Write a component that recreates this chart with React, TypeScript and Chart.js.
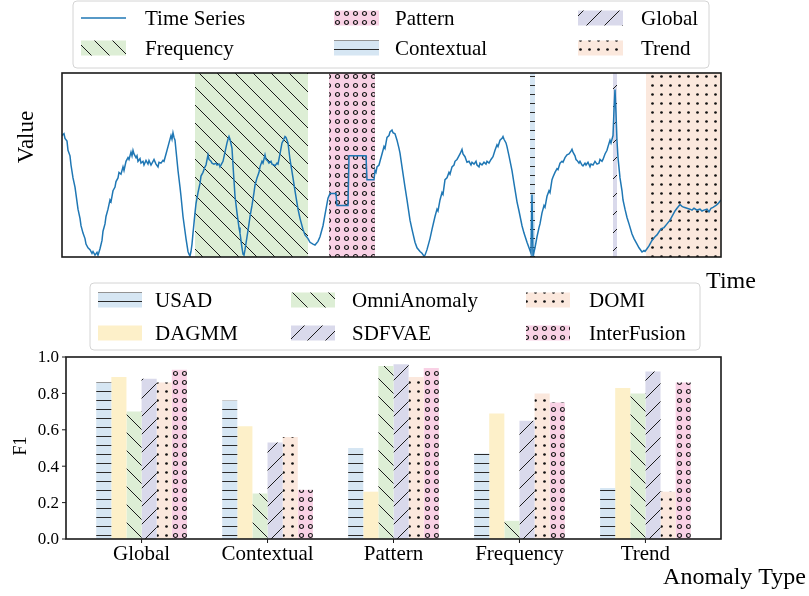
import React, { useEffect, useRef } from 'react';
import { Chart, registerables } from 'chart.js';

Chart.register(...registerables);

const FONT = '"Liberation Serif", "Times New Roman", serif';

// ---------- top panel: time series ----------
const timeIndex = [
  0, 2, 3, 5, 6, 8, 9, 11, 13, 14, 16, 18, 19, 21, 23, 24, 26, 28, 30, 31, 33, 35, 36, 38, 40, 41, 43, 44, 46, 48, 49,
  51, 53, 54, 56, 57, 59, 61, 62, 64, 66, 67, 69, 70, 71, 72, 74, 75, 76, 78, 79, 81, 82, 84, 86, 87, 89, 91, 92, 94,
  96, 97, 99, 101, 102, 104, 106, 107, 109, 110, 111, 112, 113, 114, 116, 118, 119, 121, 123, 124, 126, 127, 128, 129,
  130, 131, 133, 134, 136, 138, 139, 141, 143, 144, 146, 147, 149, 150, 152, 154, 155, 157, 158, 160, 161, 163, 165,
  166, 167, 168, 170, 171, 173, 175, 177, 178, 180, 181, 182, 183, 185, 187, 188, 190, 192, 193, 195, 197, 198, 200,
  201, 203, 204, 206, 207, 209, 210, 212, 213, 215, 216, 218, 220, 221, 223, 224, 226, 228, 231, 233, 236, 238, 241,
  243, 246, 248, 251, 253, 256, 258, 261, 263, 265, 266, 268, 274, 275, 286, 287, 304, 305, 312, 313, 314, 315, 317,
  318, 320, 322, 323, 325, 327, 328, 330, 331, 333, 335, 337, 338, 340, 343, 345, 348, 350, 353, 355, 358, 360, 362,
  363, 365, 368, 370, 373, 375, 376, 378, 380, 381, 383, 385, 387, 388, 390, 392, 393, 395, 396, 398, 400, 401, 403,
  404, 405, 407, 409, 410, 412, 414, 415, 417, 418, 420, 422, 424, 425, 427, 429, 431, 433, 435, 436, 438, 440, 441,
  442, 444, 445, 447, 450, 452, 455, 457, 460, 462, 465, 467, 469, 470, 471, 473, 475, 477, 478, 480, 482, 483, 485,
  487, 488, 490, 491, 493, 495, 496, 498, 500, 501, 503, 505, 507, 509, 510, 511, 513, 514, 515, 517, 518, 520, 521,
  523, 524, 526, 528, 529, 531, 533, 535, 537, 538, 540, 541, 543, 545, 546, 548, 549, 551, 552, 553, 554, 555, 556,
  558, 560, 561, 563, 565, 567, 570, 572, 575, 577, 580, 582, 583, 585, 587, 590, 593, 595, 598, 600, 602, 605, 608,
  611, 613, 615, 618, 620, 622, 625, 628, 630, 632, 635, 638, 640, 642, 645, 647, 649, 651, 654, 656, 659,
];
const seriesValues = [
  0.66, 0.67, 0.645, 0.63, 0.58, 0.55, 0.5, 0.43, 0.38, 0.34, 0.26, 0.21, 0.17, 0.13, 0.1, 0.07, 0.05, 0.04, 0.02, 0.03,
  0.01, 0.025, 0.01, 0.045, 0.09, 0.14, 0.18, 0.22, 0.26, 0.31, 0.3, 0.36, 0.38, 0.41, 0.43, 0.46, 0.45, 0.49, 0.47,
  0.52, 0.54, 0.53, 0.57, 0.55, 0.58, 0.56, 0.54, 0.55, 0.52, 0.535, 0.51, 0.52, 0.5, 0.525, 0.505, 0.525, 0.5, 0.52,
  0.53, 0.505, 0.49, 0.515, 0.51, 0.525, 0.52, 0.56, 0.6, 0.62, 0.66, 0.64, 0.675, 0.65, 0.635, 0.58, 0.47, 0.38, 0.33,
  0.22, 0.14, 0.1, 0.03, 0.015, 0.005, 0.03, 0.07, 0.13, 0.24, 0.29, 0.35, 0.4, 0.44, 0.46, 0.49, 0.5, 0.555, 0.53,
  0.52, 0.51, 0.505, 0.51, 0.5, 0.505, 0.49, 0.51, 0.52, 0.57, 0.62, 0.64, 0.655, 0.64, 0.59, 0.5, 0.33, 0.24, 0.16,
  0.13, 0.05, 0.015, 0.01, 0.04, 0.11, 0.18, 0.22, 0.28, 0.35, 0.39, 0.43, 0.46, 0.49, 0.52, 0.51, 0.555, 0.53, 0.52,
  0.51, 0.52, 0.505, 0.5, 0.495, 0.51, 0.505, 0.56, 0.62, 0.63, 0.655, 0.65, 0.62, 0.53, 0.43, 0.36, 0.26, 0.21, 0.15,
  0.12, 0.1, 0.08, 0.07, 0.065, 0.085, 0.11, 0.17, 0.23, 0.29, 0.32, 0.345, 0.345, 0.28, 0.28, 0.55, 0.55, 0.42, 0.42,
  0.47, 0.46, 0.49, 0.5, 0.52, 0.56, 0.6, 0.59, 0.65, 0.66, 0.68, 0.69, 0.675, 0.67, 0.635, 0.59, 0.565, 0.49, 0.38,
  0.31, 0.2, 0.15, 0.08, 0.05, 0.03, 0.02, 0.005, 0.01, 0.04, 0.1, 0.15, 0.22, 0.26, 0.25, 0.31, 0.35, 0.34, 0.42, 0.43,
  0.46, 0.45, 0.49, 0.5, 0.52, 0.53, 0.54, 0.56, 0.585, 0.56, 0.545, 0.53, 0.515, 0.52, 0.5, 0.515, 0.505, 0.52, 0.5,
  0.49, 0.51, 0.5, 0.515, 0.505, 0.52, 0.51, 0.53, 0.545, 0.58, 0.61, 0.6, 0.635, 0.645, 0.655, 0.64, 0.62, 0.6, 0.55,
  0.47, 0.4, 0.3, 0.25, 0.17, 0.13, 0.08, 0.05, 0.02, 0.34, 0.005, 0.05, 0.11, 0.16, 0.18, 0.24, 0.28, 0.27, 0.33, 0.36,
  0.35, 0.42, 0.435, 0.46, 0.48, 0.475, 0.51, 0.52, 0.515, 0.54, 0.555, 0.56, 0.575, 0.585, 0.57, 0.55, 0.53, 0.525,
  0.51, 0.52, 0.5, 0.495, 0.51, 0.5, 0.515, 0.49, 0.505, 0.5, 0.52, 0.505, 0.51, 0.53, 0.52, 0.53, 0.56, 0.58, 0.6,
  0.635, 0.62, 0.66, 0.8, 0.91, 0.78, 0.63, 0.54, 0.43, 0.36, 0.31, 0.26, 0.215, 0.18, 0.125, 0.1, 0.07, 0.05, 0.027,
  0.035, 0.03, 0.045, 0.06, 0.09, 0.11, 0.12, 0.145, 0.155, 0.16, 0.18, 0.2, 0.23, 0.25, 0.265, 0.285, 0.275, 0.27,
  0.265, 0.26, 0.255, 0.265, 0.255, 0.26, 0.25, 0.255, 0.26, 0.245, 0.265, 0.27, 0.28, 0.29, 0.31,
];

const regionTypes = ['Frequency', 'Pattern', 'Contextual', 'Global', 'Trend'];
const regionStart = [133, 267, 468, 551, 584];
const regionEnd = [246, 313, 473, 555, 660];

// ---------- bottom panel: F1 per anomaly type ----------
const anomalyTypes = ['Global', 'Contextual', 'Pattern', 'Frequency', 'Trend'];
const methods = ['USAD', 'DAGMM', 'OmniAnomaly', 'SDFVAE', 'DOMI', 'InterFusion'];
const usadF1 = [0.86, 0.76, 0.5, 0.47, 0.28];
const dagmmF1 = [0.89, 0.62, 0.26, 0.69, 0.83];
const omniF1 = [0.7, 0.25, 0.95, 0.1, 0.8];
const sdfvaeF1 = [0.88, 0.53, 0.96, 0.65, 0.92];
const domiF1 = [0.86, 0.56, 0.89, 0.8, 0.26];
const interFusionF1 = [0.93, 0.27, 0.94, 0.75, 0.86];
const f1Ticks = [0, 0.2, 0.4, 0.6, 0.8, 1.0];

// ---------- styles ----------
const FILL: Record<string, { bg: string; hatch: string }> = {
  Frequency: { bg: 'rgb(221,238,213)', hatch: 'back' },
  Pattern: { bg: 'rgb(249,209,229)', hatch: 'circle' },
  Contextual: { bg: 'rgb(214,230,243)', hatch: 'hline' },
  Global: { bg: 'rgb(217,217,235)', hatch: 'fwd' },
  Trend: { bg: 'rgb(251,232,221)', hatch: 'dot' },
  DAGMM: { bg: 'rgb(253,240,201)', hatch: 'none' },
};
const METHOD_FILL: Record<string, string> = {
  USAD: 'Contextual',
  DAGMM: 'DAGMM',
  OmniAnomaly: 'Frequency',
  SDFVAE: 'Global',
  DOMI: 'Trend',
  InterFusion: 'Pattern',
};

function makePattern(ctx: CanvasRenderingContext2D, key: string): CanvasPattern | string {
  const { bg, hatch } = FILL[key];
  if (hatch === 'none') return bg;
  const size = hatch === 'back' || hatch === 'fwd' ? 18 : 9;
  const c = document.createElement('canvas');
  c.width = size;
  c.height = size;
  const g = c.getContext('2d')!;
  g.fillStyle = bg;
  g.fillRect(0, 0, size, size);
  g.strokeStyle = '#1a1a1a';
  g.fillStyle = '#111';
  g.lineWidth = 1;
  const seg = (x1: number, y1: number, x2: number, y2: number) => {
    g.beginPath();
    g.moveTo(x1, y1);
    g.lineTo(x2, y2);
    g.stroke();
  };
  if (hatch === 'hline') {
    g.fillStyle = '#2a2a2a';
    g.fillRect(0, 4, size, 1);
  } else if (hatch === 'back') {
    seg(-2, -2, size + 2, size + 2);
    seg(-2, size - 2, 2, size + 2);
    seg(size - 2, -2, size + 2, 2);
  } else if (hatch === 'fwd') {
    seg(-2, size + 2, size + 2, -2);
    seg(-2, 2, 2, -2);
    seg(size - 2, size + 2, size + 2, size - 2);
  } else if (hatch === 'circle') {
    g.lineWidth = 1.2;
    g.beginPath();
    g.arc(4.5, 4.5, 2, 0, Math.PI * 2);
    g.stroke();
  } else if (hatch === 'dot') {
    g.beginPath();
    g.arc(4.5, 4.5, 1.35, 0, Math.PI * 2);
    g.fill();
  }
  return ctx.createPattern(c, 'repeat')!;
}

type LegendItem = { label: string; kind: 'line' | 'patch'; fill?: CanvasPattern | string };

function drawLegend(
  ctx: CanvasRenderingContext2D,
  box: { x: number; y: number; w: number; h: number },
  handleX: number[],
  textX: number[],
  rowY: number[],
  handleW: number,
  columns: LegendItem[][],
) {
  ctx.save();
  const r = 4;
  const { x, y, w, h } = box;
  ctx.beginPath();
  ctx.moveTo(x + r, y);
  ctx.lineTo(x + w - r, y);
  ctx.arcTo(x + w, y, x + w, y + r, r);
  ctx.lineTo(x + w, y + h - r);
  ctx.arcTo(x + w, y + h, x + w - r, y + h, r);
  ctx.lineTo(x + r, y + h);
  ctx.arcTo(x, y + h, x, y + h - r, r);
  ctx.lineTo(x, y + r);
  ctx.arcTo(x, y, x + r, y, r);
  ctx.closePath();
  ctx.fillStyle = 'rgba(255,255,255,0.85)';
  ctx.fill();
  ctx.strokeStyle = '#d4d4d4';
  ctx.lineWidth = 1;
  ctx.stroke();
  ctx.font = `21px ${FONT}`;
  ctx.textBaseline = 'middle';
  ctx.textAlign = 'left';
  columns.forEach((col, ci) => {
    col.forEach((item, ri) => {
      const cy = rowY[ri];
      if (item.kind === 'line') {
        ctx.strokeStyle = '#1f77b4';
        ctx.lineWidth = 1.5;
        ctx.beginPath();
        ctx.moveTo(handleX[ci], cy);
        ctx.lineTo(handleX[ci] + handleW, cy);
        ctx.stroke();
      } else {
        ctx.fillStyle = item.fill as any;
        ctx.fillRect(handleX[ci], cy - 7.5, handleW, 15);
      }
      ctx.fillStyle = '#000';
      ctx.fillText(item.label, textX[ci], cy + 1);
    });
  });
  ctx.restore();
}

export default function App() {
  const topRef = useRef<HTMLCanvasElement>(null);
  const botRef = useRef<HTMLCanvasElement>(null);

  useEffect(() => {
    const topCanvas = topRef.current!;
    const botCanvas = botRef.current!;
    const tctx = topCanvas.getContext('2d')!;
    const bctx = botCanvas.getContext('2d')!;

    const topPat: Record<string, CanvasPattern | string> = {};
    regionTypes.forEach((t) => (topPat[t] = makePattern(tctx, t)));
    const botPat: Record<string, CanvasPattern | string> = {};
    methods.forEach((m) => (botPat[m] = makePattern(bctx, METHOD_FILL[m])));

    const topPlugin = {
      id: 'topDecor',
      beforeDatasetsDraw(chart: any) {
        const { ctx, chartArea: a, scales } = chart;
        const xs = scales.x;
        ctx.save();
        ctx.beginPath();
        ctx.rect(a.left, a.top, a.right - a.left, a.bottom - a.top);
        ctx.clip();
        regionTypes.forEach((type, i) => {
          const x1 = xs.getPixelForValue(regionStart[i]);
          const x2 = xs.getPixelForValue(regionEnd[i]);
          ctx.fillStyle = topPat[type];
          ctx.fillRect(x1, a.top, x2 - x1, a.bottom - a.top);
        });
        ctx.restore();
      },
      afterDraw(chart: any) {
        const { ctx, chartArea: a } = chart;
        ctx.save();
        ctx.strokeStyle = '#1a1a1a';
        ctx.lineWidth = 1.6;
        ctx.strokeRect(a.left, a.top, a.right - a.left, a.bottom - a.top);
        ctx.fillStyle = '#000';
        ctx.font = `24px ${FONT}`;
        ctx.textAlign = 'center';
        ctx.textBaseline = 'middle';
        ctx.fillText('Time', 731, 282);
        ctx.font = `23px ${FONT}`;
        ctx.translate(27, 137);
        ctx.rotate(-Math.PI / 2);
        ctx.fillText('Value', 0, 0);
        ctx.restore();
        drawLegend(
          ctx,
          { x: 73, y: 1, w: 636, h: 67 },
          [81, 334, 578],
          [145, 395, 641],
          [18, 48],
          45,
          [
            [
              { label: 'Time Series', kind: 'line' },
              { label: regionTypes[0], kind: 'patch', fill: topPat['Frequency'] },
            ],
            [
              { label: regionTypes[1], kind: 'patch', fill: topPat['Pattern'] },
              { label: regionTypes[2], kind: 'patch', fill: topPat['Contextual'] },
            ],
            [
              { label: regionTypes[3], kind: 'patch', fill: topPat['Global'] },
              { label: regionTypes[4], kind: 'patch', fill: topPat['Trend'] },
            ],
          ],
        );
      },
    };

    const c1 = new Chart(topCanvas, {
      type: 'line',
      data: {
        datasets: [
          {
            label: 'Time Series',
            data: timeIndex.map((t, i) => ({ x: t, y: seriesValues[i] })),
            borderColor: '#1f77b4',
            borderWidth: 1.5,
            pointRadius: 0,
            tension: 0,
            fill: false,
          },
        ],
      },
      options: {
        responsive: false,
        animation: false,
        devicePixelRatio: 1,
        layout: { padding: { left: 62, right: 88, top: 73, bottom: 43 } },
        plugins: { legend: { display: false }, tooltip: { enabled: false } },
        scales: {
          x: { type: 'linear', min: 0, max: 659, display: false },
          y: { type: 'linear', min: 0, max: 1, display: false },
        },
      },
      plugins: [topPlugin],
    } as any);

    const f1 = [usadF1, dagmmF1, omniF1, sdfvaeF1, domiF1, interFusionF1];

    const botPlugin = {
      id: 'botDecor',
      afterDraw(chart: any) {
        const { ctx, chartArea: a, scales } = chart;
        const xs = scales.x;
        const ys = scales.y;
        ctx.save();
        ctx.strokeStyle = '#1a1a1a';
        ctx.lineWidth = 1.6;
        ctx.strokeRect(a.left, a.top, a.right - a.left, a.bottom - a.top);
        ctx.lineWidth = 1;
        ctx.fillStyle = '#000';
        ctx.font = `17px ${FONT}`;
        ctx.textAlign = 'right';
        ctx.textBaseline = 'middle';
        f1Ticks.forEach((v) => {
          const y = ys.getPixelForValue(v);
          ctx.beginPath();
          ctx.moveTo(a.left - 4, y);
          ctx.lineTo(a.left, y);
          ctx.stroke();
          ctx.fillText(v.toFixed(1), a.left - 7, y + 1);
        });
        ctx.font = `21px ${FONT}`;
        ctx.textAlign = 'center';
        anomalyTypes.forEach((name, i) => {
          const x = xs.getPixelForValue(i);
          ctx.beginPath();
          ctx.moveTo(x, a.bottom);
          ctx.lineTo(x, a.bottom + 4);
          ctx.stroke();
          ctx.fillText(name, x, a.bottom + 15);
        });
        ctx.font = `24px ${FONT}`;
        ctx.textAlign = 'right';
        ctx.fillText('Anomaly Type', 806, a.bottom + 39);
        ctx.font = `18px ${FONT}`;
        ctx.textAlign = 'center';
        ctx.translate(21, (a.top + a.bottom) / 2 - 2);
        ctx.rotate(-Math.PI / 2);
        ctx.fillText('F1', 0, 0);
        ctx.restore();
        drawLegend(
          ctx,
          { x: 90, y: 13, w: 610, h: 67 },
          [98, 291, 526],
          [155, 352, 589],
          [30, 63],
          44,
          [
            [
              { label: methods[0], kind: 'patch', fill: botPat[methods[0]] },
              { label: methods[1], kind: 'patch', fill: botPat[methods[1]] },
            ],
            [
              { label: methods[2], kind: 'patch', fill: botPat[methods[2]] },
              { label: methods[3], kind: 'patch', fill: botPat[methods[3]] },
            ],
            [
              { label: methods[4], kind: 'patch', fill: botPat[methods[4]] },
              { label: methods[5], kind: 'patch', fill: botPat[methods[5]] },
            ],
          ],
        );
      },
    };

    const c2 = new Chart(botCanvas, {
      type: 'bar',
      data: {
        datasets: methods.map((m, k) => ({
          label: m,
          data: f1[k].map((v, i) => ({ x: i, y: v })),
          backgroundColor: botPat[m],
          borderWidth: 0,
          categoryPercentage: 0.72,
          barPercentage: 1.0,
        })),
      },
      options: {
        responsive: false,
        animation: false,
        devicePixelRatio: 1,
        layout: { padding: { left: 66, right: 88, top: 87, bottom: 57 } },
        plugins: { legend: { display: false }, tooltip: { enabled: false } },
        scales: {
          x: {
            type: 'linear',
            min: -0.6,
            max: 4.6,
            offset: false,
            display: false,
            afterBuildTicks: (scale: any) => {
              scale.ticks = anomalyTypes.map((_, i) => ({ value: i }));
            },
          },
          y: { type: 'linear', min: 0, max: 1, display: false },
        },
      },
      plugins: [botPlugin],
    } as any);

    return () => {
      c1.destroy();
      c2.destroy();
    };
  }, []);

  return (
    <div
      style={{
        position: 'absolute',
        left: 0,
        top: 0,
        width: 809,
        height: 596,
        background: '#fff',
        overflow: 'hidden',
      }}
    >
      <canvas
        ref={topRef}
        width={809}
        height={300}
        style={{ position: 'absolute', left: 0, top: 0, width: 809, height: 300 }}
      />
      <canvas
        ref={botRef}
        width={809}
        height={326}
        style={{ position: 'absolute', left: 0, top: 270, width: 809, height: 326 }}
      />
    </div>
  );
}
